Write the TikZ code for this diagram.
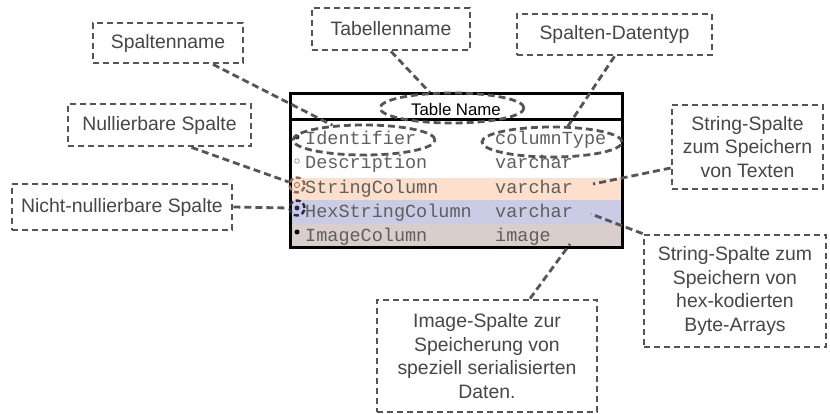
\documentclass[tikz,border=0pt]{standalone}
\usepackage{fontspec}
\setmainfont{Liberation Sans}
\newfontfamily\monofont{Liberation Mono}
\usetikzlibrary{shapes.geometric}
\definecolor{linegray}{RGB}{85,85,85}
\definecolor{textgray}{RGB}{70,70,70}
\definecolor{monogray}{RGB}{95,95,95}
\definecolor{rowstr}{RGB}{253,224,204}
\definecolor{rowhex}{RGB}{202,204,230}
\definecolor{rowimg}{RGB}{217,206,203}
\definecolor{dotbrown}{RGB}{140,110,90}
\definecolor{dotnavy}{RGB}{40,40,70}
\begin{document}
\begin{tikzpicture}[x=1pt,y=-1pt,
  lbl/.style={draw=linegray, line width=2.8pt, dash pattern=on 6pt off 4pt, text=textgray,
    font=\fontsize{19.4pt}{23.5pt}\selectfont, align=center, inner sep=0pt},
  conn/.style={draw=linegray, line width=2.8pt, dash pattern=on 7pt off 4pt},
  ell/.style={ellipse, draw=linegray, line width=2.8pt, dash pattern=on 7pt off 4pt, inner sep=0pt},
  mono/.style={font=\monofont\fontsize{18.5pt}{20pt}\selectfont, text=monogray, anchor=base west, inner sep=0pt},
  dotf/.style={circle, inner sep=0pt, minimum size=5pt},
  smallc/.style={circle, draw, line width=2.4pt, dash pattern=on 5pt off 3pt, inner sep=0pt, minimum size=15pt}]
\useasboundingbox (0,0) rectangle (830,414);
% table
\fill[rowstr] (290,178) rectangle (622,200);
\fill[rowhex] (290,200) rectangle (622,224);
\fill[rowimg] (290,224) rectangle (622,248);
\draw[line width=3pt] (290,94) rectangle (622,248);
\draw[line width=3pt] (290,120) -- (622,120);
\node[anchor=base, inner sep=0pt, font=\fontsize{16.8pt}{18pt}\selectfont] (tname) at (456,116) {Table Name};
\node[mono] (r1a) at (305,145) {Identifier};
\node[mono] (r1b) at (495,145) {columnType};
\node[mono] (r2a) at (305,169) {Description};
\node[mono] (r2b) at (495,169) {varchar};
\node[mono] (r3a) at (305,193.5) {StringColumn};
\node[mono] (r3b) at (495,193.5) {varchar};
\node[mono] (r4a) at (305,217.5) {HexStringColumn};
\node[mono] (r4b) at (495,217.5) {varchar};
\node[mono] (r5a) at (305,241.5) {ImageColumn};
\node[mono] (r5b) at (495,241.5) {image};
% dots
\node[dotf, fill=black!80] (d1) at (297,137) {};
\node[dotf, draw=gray, line width=0.6pt, fill=white, minimum size=4.5pt] (d2) at (297,161) {};
\node[dotf, draw=dotbrown, line width=0.8pt, minimum size=5pt] (d3) at (297,185) {};
\node[dotf, fill=dotnavy] (d4) at (297,208) {};
\node[dotf, fill=black] (d5) at (297,232) {};
\node[smallc, draw=dotbrown] (strc) at (297,185) {};
\node[smallc, draw=dotnavy] (hexc) at (297,208) {};
% ellipses
\node[ell, minimum width=144pt, minimum height=30pt] (tnell) at (452,108) {};
\node[ell, minimum width=142pt, minimum height=30pt] (idell) at (364,140) {};
\node[ell, minimum width=140pt, minimum height=30pt] (ctell) at (552,142) {};
% label boxes
\node[lbl, minimum width=150pt, minimum height=40pt] (spn) at (168,43) {Spaltenname};
\node[lbl, minimum width=158pt, minimum height=42pt] (tbn) at (391,29) {Tabellenname};
\node[lbl, minimum width=195pt, minimum height=41pt] (sdt) at (614.5,34.5) {Spalten-Datentyp};
\node[lbl, minimum width=183pt, minimum height=42pt] (nul) at (159.5,125) {Nullierbare Spalte};
\node[lbl, minimum width=220pt, minimum height=46pt] (nnb) at (122,207) {Nicht-nullierbare Spalte};
\node[lbl, minimum width=151pt, minimum height=84pt] (stx) at (747.5,147) {String-Spalte\\zum Speichern\\von Texten};
\node[lbl, minimum width=182pt, minimum height=112pt] (hxb) at (735,291) {String-Spalte zum\\Speichern von\\hex-kodierten\\Byte-Arrays};
\node[lbl, minimum width=220pt, minimum height=112pt] (img) at (487,356) {Image-Spalte zur\\Speicherung von\\speziell serialisierten\\Daten.};
% free ends
\coordinate (strtype) at (593,184);
\coordinate (hextype) at (591,214);
\coordinate (imgtype) at (570,244);
% connectors
\draw[conn] ([xshift=45pt]spn.south) -- (idell.155);
\draw[conn] (tbn.south) -- (tnell.145);
\draw[conn] (sdt.south) -- (ctell.45);
\draw[conn] ([xshift=32pt]nul.south) -- (strc.160);
\draw[conn] (nnb.east) -- (hexc.west);
\draw[conn] ([yshift=-21pt]stx.west) -- (strtype);
\draw[conn] (hxb.north west) -- (hextype);
\draw[conn] ([xshift=43pt]img.north) -- (imgtype);
\end{tikzpicture}
\end{document}
